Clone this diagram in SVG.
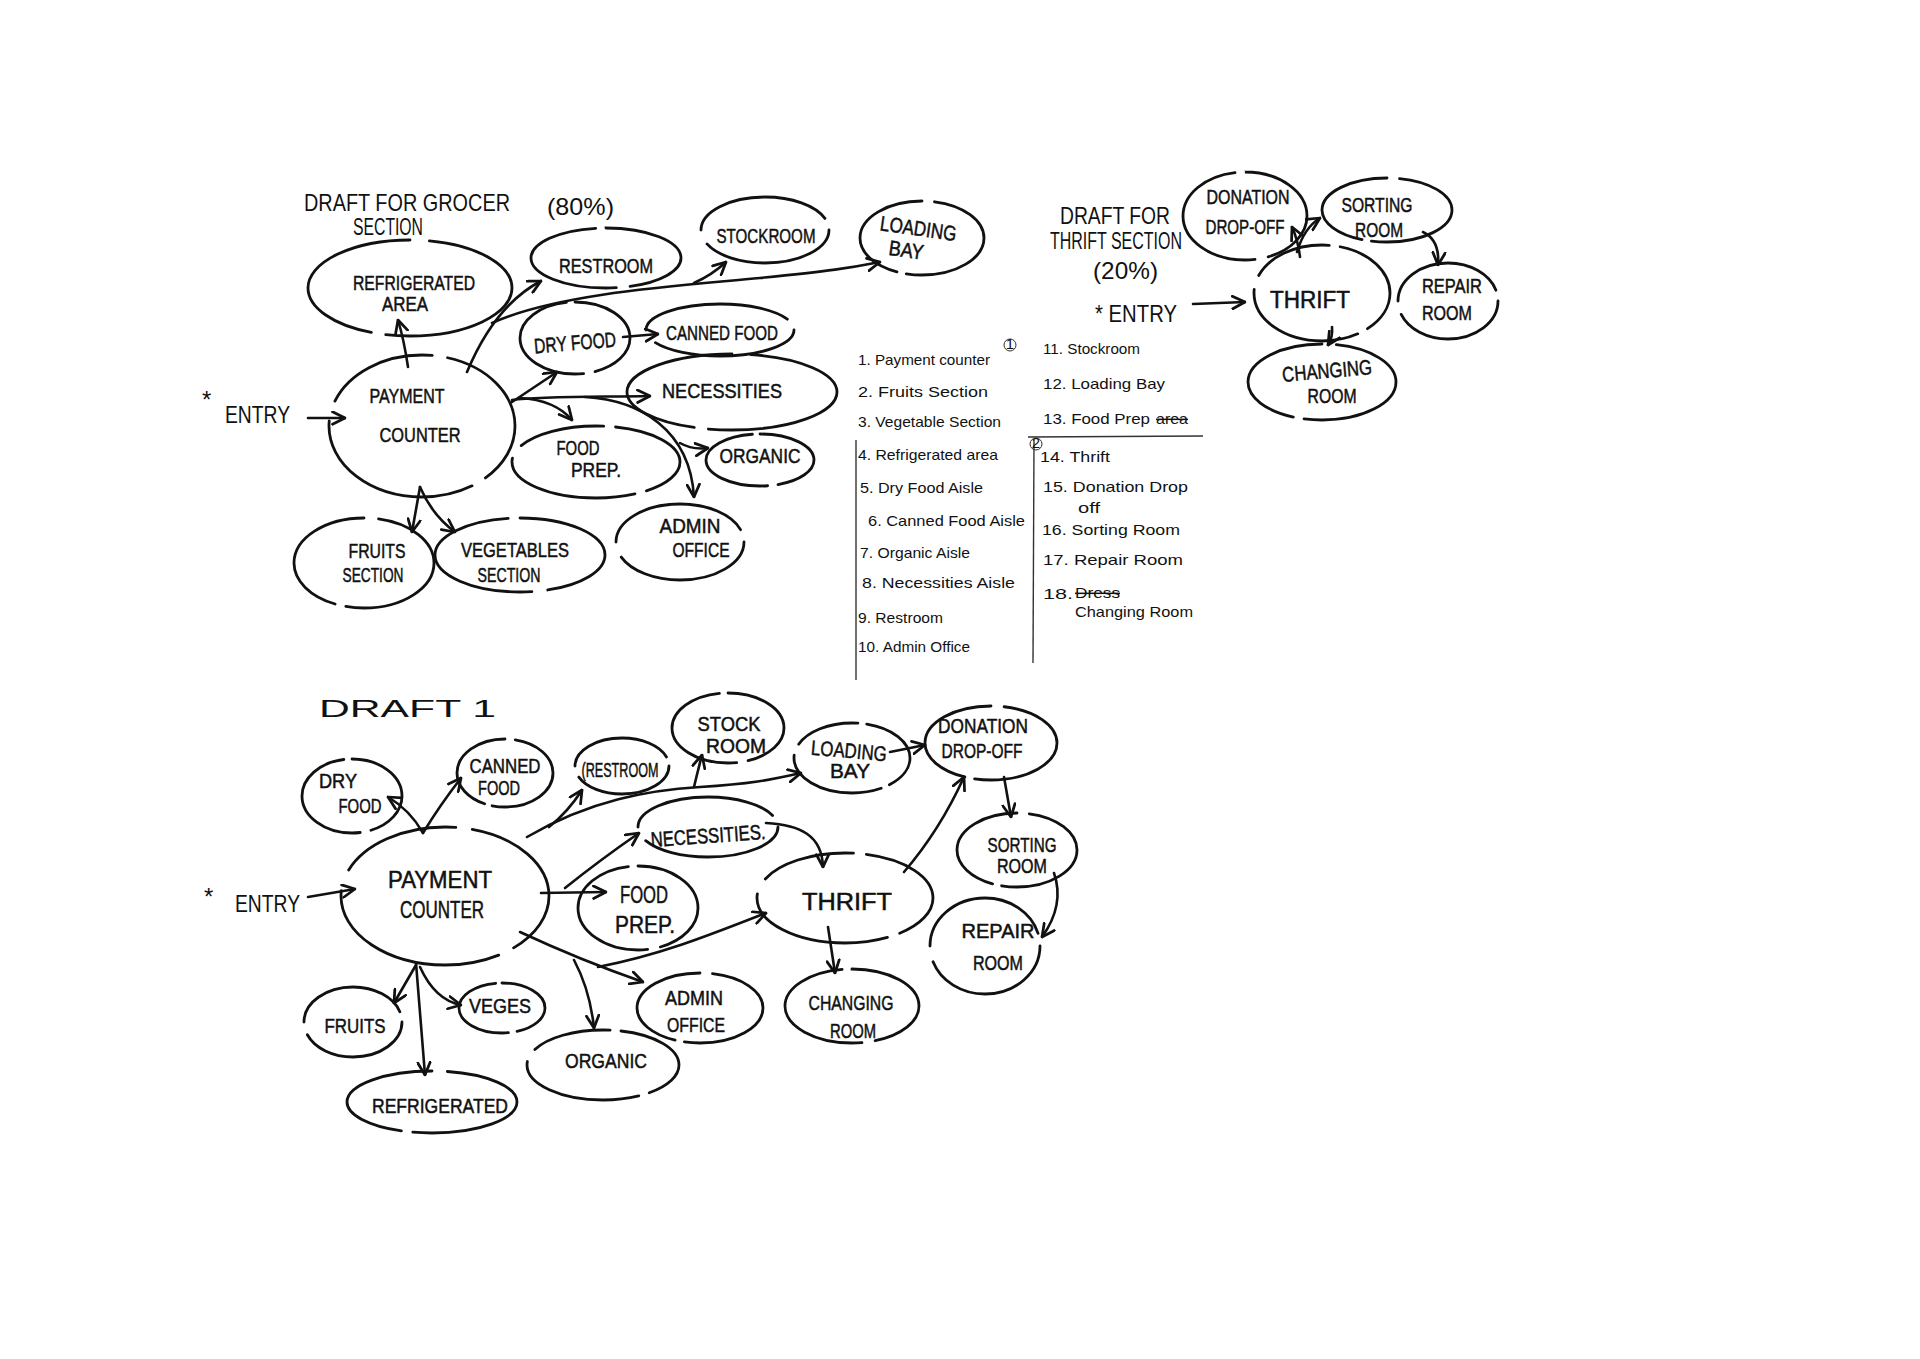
<svg xmlns="http://www.w3.org/2000/svg" width="1920" height="1359" viewBox="0 0 1920 1359">
<defs>
<marker id="ah" viewBox="0 0 12 12" refX="11" refY="6" markerWidth="15" markerHeight="15" markerUnits="userSpaceOnUse" orient="auto">
<path d="M1,1 L11,6 L1,11" fill="none" stroke="#111" stroke-width="2.2" stroke-linecap="round" stroke-linejoin="round"/>
</marker>
<style>
.bg{fill:#fff}
.n{fill:none;stroke:#111;stroke-width:2.8;stroke-linecap:round}
.ga{stroke-dasharray:30 3 42 4 21 0}
.gb{stroke-dasharray:18 4 50 3 25 0}
.gc{stroke-dasharray:45 5 46 4}
.gd{stroke-dasharray:12 3 36 4 22 3 20 0}
.c{fill:none;stroke:#111;stroke-width:2.6;stroke-linecap:round;marker-end:url(#ah)}
.t{font-family:"Liberation Sans",Arial,sans-serif;font-size:21px;fill:#111;stroke:#111;stroke-width:0.5;text-anchor:middle}
.tb{font-family:"Liberation Sans",Arial,sans-serif;font-size:23px;fill:#111;stroke:#111;stroke-width:0.5;text-anchor:middle}
.h{font-family:"Liberation Sans",Arial,sans-serif;font-size:24px;fill:#111}
.lg{font-family:"Liberation Sans",Arial,sans-serif;font-size:15px;fill:#111}
.rule{stroke:#333;stroke-width:1.4;fill:none}
</style>
</defs>
<rect class="bg" x="0" y="0" width="1920" height="1359"/>

<!-- ===== Grocer draft ===== -->
<g id="grocer-title">
<text class="h" x="304" y="211" font-size="20" textLength="206" lengthAdjust="spacingAndGlyphs">DRAFT FOR GROCER</text>
<text class="h" x="547" y="215" font-size="22" textLength="67" lengthAdjust="spacingAndGlyphs">(80%)</text>
<text class="h" x="353" y="235" font-size="13" textLength="70" lengthAdjust="spacingAndGlyphs">SECTION</text>
</g>
<g id="g-entry">
<text class="h" x="202" y="408" font-size="20">*</text>
<text class="h" x="225" y="423" textLength="65" lengthAdjust="spacingAndGlyphs">ENTRY</text>
</g>
<g id="g-payment">
<ellipse class="n gd" pathLength="100" cx="422" cy="426" rx="93" ry="71"/>
<text class="t" x="407" y="403" textLength="75" lengthAdjust="spacingAndGlyphs">PAYMENT</text>
<text class="t" x="420" y="442" font-size="26" textLength="81" lengthAdjust="spacingAndGlyphs">COUNTER</text>
</g>
<g id="g-refrigerated">
<ellipse class="n ga" pathLength="100" cx="410" cy="288" rx="102" ry="48"/>
<text class="t" x="414" y="290" textLength="122" lengthAdjust="spacingAndGlyphs">REFRIGERATED</text>
<text class="t" x="405" y="311" textLength="46" lengthAdjust="spacingAndGlyphs">AREA</text>
</g>
<g id="g-restroom">
<ellipse class="n gb" pathLength="100" cx="606" cy="258" rx="75" ry="30"/>
<text class="t" x="606" y="273" textLength="94" lengthAdjust="spacingAndGlyphs">RESTROOM</text>
</g>
<g id="g-stockroom">
<ellipse class="n gc" pathLength="100" cx="765" cy="230" rx="64" ry="33"/>
<text class="t" x="766" y="243" textLength="99" lengthAdjust="spacingAndGlyphs">STOCKROOM</text>
</g>
<g id="g-loading">
<ellipse class="n ga" pathLength="100" cx="922" cy="238" rx="62" ry="37"/>
<g transform="rotate(8 912 245)">
<text class="t" x="916" y="235" font-size="18" textLength="77" lengthAdjust="spacingAndGlyphs">LOADING</text>
<text class="t" x="907" y="258" font-size="18" textLength="35" lengthAdjust="spacingAndGlyphs">BAY</text>
</g>
</g>
<g id="g-dryfood">
<ellipse class="n gb" pathLength="100" cx="575" cy="338" rx="55" ry="36"/>
<text class="t" x="575" y="350" transform="rotate(-5 575 342)" textLength="82" lengthAdjust="spacingAndGlyphs">DRY FOOD</text>
</g>
<g id="g-canned">
<ellipse class="n gc" pathLength="100" cx="720" cy="330" rx="74" ry="26"/>
<text class="t" x="722" y="340" textLength="112" lengthAdjust="spacingAndGlyphs">CANNED FOOD</text>
</g>
<g id="g-necessities">
<ellipse class="n ga" pathLength="100" cx="732" cy="392" rx="105" ry="38"/>
<text class="t" x="722" y="398" textLength="120" lengthAdjust="spacingAndGlyphs">NECESSITIES</text>
</g>
<g id="g-foodprep">
<ellipse class="n gd" pathLength="100" cx="596" cy="462" rx="84" ry="36"/>
<text class="t" x="578" y="455" textLength="43" lengthAdjust="spacingAndGlyphs">FOOD</text>
<text class="t" x="596" y="477" textLength="50" lengthAdjust="spacingAndGlyphs">PREP.</text>
</g>
<g id="g-organic">
<ellipse class="n gb" pathLength="100" cx="760" cy="460" rx="54" ry="26"/>
<text class="t" x="760" y="463" textLength="81" lengthAdjust="spacingAndGlyphs">ORGANIC</text>
</g>
<g id="g-admin">
<ellipse class="n gc" pathLength="100" cx="680" cy="542" rx="64" ry="38"/>
<text class="t" x="690" y="533" textLength="61" lengthAdjust="spacingAndGlyphs">ADMIN</text>
<text class="t" x="701" y="557" textLength="57" lengthAdjust="spacingAndGlyphs">OFFICE</text>
</g>
<g id="g-fruits">
<ellipse class="n ga" pathLength="100" cx="364" cy="563" rx="70" ry="45"/>
<text class="t" x="377" y="558" font-size="18" textLength="57" lengthAdjust="spacingAndGlyphs">FRUITS</text>
<text class="t" x="373" y="582" font-size="18" textLength="61" lengthAdjust="spacingAndGlyphs">SECTION</text>
</g>
<g id="g-vegetables">
<ellipse class="n gb" pathLength="100" cx="520" cy="555" rx="85" ry="37"/>
<text class="t" x="515" y="557" font-size="18" textLength="108" lengthAdjust="spacingAndGlyphs">VEGETABLES</text>
<text class="t" x="509" y="582" font-size="18" textLength="63" lengthAdjust="spacingAndGlyphs">SECTION</text>
</g>

<!-- ===== Legend ===== -->
<g id="legend">
<path class="rule" d="M856,440 L856,680"/>
<path class="rule" d="M1034,440 L1033,663"/>
<path class="rule" d="M1028,437 L1203,436"/>
<circle cx="1010" cy="345" r="6" fill="none" stroke="#333" stroke-width="1"/>
<text class="lg" x="1010" y="349" font-size="9" text-anchor="middle">1</text>
<circle cx="1036" cy="444" r="6" fill="none" stroke="#333" stroke-width="1"/>
<text class="lg" x="1036" y="448" font-size="9" text-anchor="middle">2</text>
<text class="lg" x="858" y="365" textLength="132" lengthAdjust="spacingAndGlyphs">1. Payment counter</text>
<text class="lg" x="858" y="397" textLength="130" lengthAdjust="spacingAndGlyphs">2. Fruits Section</text>
<text class="lg" x="858" y="427" textLength="143" lengthAdjust="spacingAndGlyphs">3. Vegetable Section</text>
<text class="lg" x="858" y="460" textLength="140" lengthAdjust="spacingAndGlyphs">4. Refrigerated area</text>
<text class="lg" x="860" y="493" textLength="123" lengthAdjust="spacingAndGlyphs">5. Dry Food Aisle</text>
<text class="lg" x="868" y="526" textLength="157" lengthAdjust="spacingAndGlyphs">6. Canned Food Aisle</text>
<text class="lg" x="860" y="558" textLength="110" lengthAdjust="spacingAndGlyphs">7. Organic Aisle</text>
<text class="lg" x="862" y="588" textLength="153" lengthAdjust="spacingAndGlyphs">8. Necessities Aisle</text>
<text class="lg" x="858" y="623" textLength="85" lengthAdjust="spacingAndGlyphs">9. Restroom</text>
<text class="lg" x="858" y="652" textLength="112" lengthAdjust="spacingAndGlyphs">10. Admin Office</text>
<text class="lg" x="1043" y="354" textLength="97" lengthAdjust="spacingAndGlyphs">11. Stockroom</text>
<text class="lg" x="1043" y="389" textLength="122" lengthAdjust="spacingAndGlyphs">12. Loading Bay</text>
<text class="lg" x="1043" y="424" textLength="107" lengthAdjust="spacingAndGlyphs">13. Food Prep</text>
<text class="lg" x="1156" y="424" textLength="32" lengthAdjust="spacingAndGlyphs" text-decoration="line-through">area</text>
<text class="lg" x="1040" y="462" textLength="70" lengthAdjust="spacingAndGlyphs">14. Thrift</text>
<text class="lg" x="1043" y="492" textLength="145" lengthAdjust="spacingAndGlyphs">15. Donation Drop</text>
<text class="lg" x="1078" y="513" textLength="22" lengthAdjust="spacingAndGlyphs">off</text>
<text class="lg" x="1042" y="535" textLength="138" lengthAdjust="spacingAndGlyphs">16. Sorting Room</text>
<text class="lg" x="1043" y="565" textLength="140" lengthAdjust="spacingAndGlyphs">17. Repair Room</text>
<text class="lg" x="1043" y="599" textLength="30" lengthAdjust="spacingAndGlyphs">18.</text>
<text class="lg" x="1075" y="598" textLength="45" lengthAdjust="spacingAndGlyphs" text-decoration="line-through">Dress</text>
<text class="lg" x="1075" y="617" textLength="118" lengthAdjust="spacingAndGlyphs">Changing Room</text>
</g>

<!-- ===== Thrift draft ===== -->
<g id="thrift-title">
<text class="h" x="1060" y="224" font-size="19" textLength="110" lengthAdjust="spacingAndGlyphs">DRAFT FOR</text>
<text class="h" x="1050" y="249" font-size="15" textLength="132" lengthAdjust="spacingAndGlyphs">THRIFT SECTION</text>
<text class="h" x="1093" y="279" font-size="20" textLength="65" lengthAdjust="spacingAndGlyphs">(20%)</text>
</g>
<g id="t-entry">
<text class="h" x="1095" y="322" font-size="26" textLength="82" lengthAdjust="spacingAndGlyphs">* ENTRY</text>
</g>
<g id="t-donation">
<ellipse class="n gb" pathLength="100" cx="1245" cy="216" rx="62" ry="44"/>
<text class="t" x="1248" y="204" font-size="17" textLength="83" lengthAdjust="spacingAndGlyphs">DONATION</text>
<text class="t" x="1245" y="234" font-size="17" textLength="79" lengthAdjust="spacingAndGlyphs">DROP-OFF</text>
</g>
<g id="t-sorting">
<ellipse class="n ga" pathLength="100" cx="1387" cy="210" rx="65" ry="32"/>
<text class="t" x="1377" y="212" font-size="18" textLength="71" lengthAdjust="spacingAndGlyphs">SORTING</text>
<text class="t" x="1379" y="237" font-size="18" textLength="48" lengthAdjust="spacingAndGlyphs">ROOM</text>
</g>
<g id="t-thrift">
<ellipse class="n gd" pathLength="100" cx="1322" cy="293" rx="68" ry="48"/>
<text class="tb" x="1310" y="308" font-size="26" textLength="80" lengthAdjust="spacingAndGlyphs">THRIFT</text>
</g>
<g id="t-repair">
<ellipse class="n gc" pathLength="100" cx="1448" cy="301" rx="50" ry="38"/>
<text class="t" x="1452" y="293" font-size="18" textLength="60" lengthAdjust="spacingAndGlyphs">REPAIR</text>
<text class="t" x="1447" y="320" font-size="18" textLength="50" lengthAdjust="spacingAndGlyphs">ROOM</text>
</g>
<g id="t-changing">
<ellipse class="n ga" pathLength="100" cx="1322" cy="382" rx="74" ry="38"/>
<text class="t" x="1327" y="378" transform="rotate(-5 1327 370)" font-size="20" textLength="90" lengthAdjust="spacingAndGlyphs">CHANGING</text>
<text class="t" x="1332" y="403" font-size="20" textLength="49" lengthAdjust="spacingAndGlyphs">ROOM</text>
</g>

<!-- ===== Draft 1 ===== -->
<g id="draft1-title">
<text class="h" x="319" y="717" font-size="44" textLength="177" lengthAdjust="spacingAndGlyphs">DRAFT 1</text>
</g>
<g id="d-entry">
<text class="h" x="204" y="905" font-size="20">*</text>
<text class="h" x="235" y="912" textLength="65" lengthAdjust="spacingAndGlyphs">ENTRY</text>
</g>
<g id="d-payment">
<ellipse class="n gd" pathLength="100" cx="445" cy="896" rx="104" ry="69"/>
<text class="tb" x="440" y="888" font-size="25" textLength="104" lengthAdjust="spacingAndGlyphs">PAYMENT</text>
<text class="tb" x="442" y="918" font-size="25" textLength="84" lengthAdjust="spacingAndGlyphs">COUNTER</text>
</g>
<g id="d-dryfood">
<ellipse class="n gb" pathLength="100" cx="352" cy="796" rx="50" ry="37"/>
<text class="t" x="338" y="788" textLength="38" lengthAdjust="spacingAndGlyphs">DRY</text>
<text class="t" x="360" y="813" textLength="43" lengthAdjust="spacingAndGlyphs">FOOD</text>
</g>
<g id="d-canned">
<ellipse class="n ga" pathLength="100" cx="505" cy="773" rx="48" ry="34"/>
<text class="t" x="505" y="773" textLength="71" lengthAdjust="spacingAndGlyphs">CANNED</text>
<text class="t" x="499" y="795" textLength="42" lengthAdjust="spacingAndGlyphs">FOOD</text>
</g>
<g id="d-restroom">
<ellipse class="n gc" pathLength="100" cx="622" cy="766" rx="47" ry="28"/>
<text class="t" x="620" y="777" font-size="19" textLength="77" lengthAdjust="spacingAndGlyphs">(RESTROOM</text>
</g>
<g id="d-stockroom">
<ellipse class="n gb" pathLength="100" cx="728" cy="728" rx="56" ry="35"/>
<text class="t" x="729" y="731" font-size="18" textLength="63" lengthAdjust="spacingAndGlyphs">STOCK</text>
<text class="t" x="736" y="753" font-size="18" textLength="60" lengthAdjust="spacingAndGlyphs">ROOM</text>
</g>
<g id="d-loading">
<ellipse class="n gd" pathLength="100" cx="852" cy="758" rx="58" ry="35"/>
<text class="t" x="849" y="758" transform="rotate(5 849 750)" textLength="76" lengthAdjust="spacingAndGlyphs">LOADING</text>
<text class="t" x="850" y="778" textLength="40" lengthAdjust="spacingAndGlyphs">BAY</text>
</g>
<g id="d-donation">
<ellipse class="n ga" pathLength="100" cx="991" cy="743" rx="66" ry="37"/>
<text class="t" x="983" y="733" textLength="90" lengthAdjust="spacingAndGlyphs">DONATION</text>
<text class="t" x="982" y="758" textLength="81" lengthAdjust="spacingAndGlyphs">DROP-OFF</text>
</g>
<g id="d-necessities">
<ellipse class="n gc" pathLength="100" cx="708" cy="827" rx="70" ry="30"/>
<text class="t" x="708" y="843" transform="rotate(-4 708 835)" textLength="115" lengthAdjust="spacingAndGlyphs">NECESSITIES.</text>
</g>
<g id="d-foodprep">
<ellipse class="n gb" pathLength="100" cx="638" cy="908" rx="60" ry="42"/>
<text class="tb" x="644" y="903" textLength="48" lengthAdjust="spacingAndGlyphs">FOOD</text>
<text class="tb" x="645" y="933" textLength="60" lengthAdjust="spacingAndGlyphs">PREP.</text>
</g>
<g id="d-thrift">
<ellipse class="n gd" pathLength="100" cx="845" cy="898" rx="88" ry="45"/>
<text class="tb" x="847" y="910" font-size="28" textLength="90" lengthAdjust="spacingAndGlyphs">THRIFT</text>
</g>
<g id="d-sorting">
<ellipse class="n ga" pathLength="100" cx="1017" cy="850" rx="60" ry="37"/>
<text class="t" x="1022" y="852" font-size="17" textLength="69" lengthAdjust="spacingAndGlyphs">SORTING</text>
<text class="t" x="1022" y="873" font-size="17" textLength="50" lengthAdjust="spacingAndGlyphs">ROOM</text>
</g>
<g id="d-repair">
<ellipse class="n gc" pathLength="100" cx="985" cy="946" rx="55" ry="48"/>
<text class="t" x="998" y="938" textLength="73" lengthAdjust="spacingAndGlyphs">REPAIR</text>
<text class="t" x="998" y="970" textLength="50" lengthAdjust="spacingAndGlyphs">ROOM</text>
</g>
<g id="d-changing">
<ellipse class="n gb" pathLength="100" cx="852" cy="1006" rx="67" ry="37"/>
<text class="t" x="851" y="1010" font-size="19" textLength="85" lengthAdjust="spacingAndGlyphs">CHANGING</text>
<text class="t" x="853" y="1038" font-size="19" textLength="46" lengthAdjust="spacingAndGlyphs">ROOM</text>
</g>
<g id="d-admin">
<ellipse class="n ga" pathLength="100" cx="700" cy="1008" rx="63" ry="35"/>
<text class="t" x="694" y="1005" textLength="58" lengthAdjust="spacingAndGlyphs">ADMIN</text>
<text class="t" x="696" y="1032" textLength="58" lengthAdjust="spacingAndGlyphs">OFFICE</text>
</g>
<g id="d-organic">
<ellipse class="n gd" pathLength="100" cx="603" cy="1065" rx="76" ry="35"/>
<text class="t" x="606" y="1068" textLength="82" lengthAdjust="spacingAndGlyphs">ORGANIC</text>
</g>
<g id="d-fruits">
<ellipse class="n gc" pathLength="100" cx="353" cy="1022" rx="49" ry="35"/>
<text class="t" x="355" y="1033" textLength="61" lengthAdjust="spacingAndGlyphs">FRUITS</text>
</g>
<g id="d-veges">
<ellipse class="n gb" pathLength="100" cx="502" cy="1008" rx="43" ry="25"/>
<text class="t" x="500" y="1013" textLength="62" lengthAdjust="spacingAndGlyphs">VEGES</text>
</g>
<g id="d-refrigerated">
<ellipse class="n ga" pathLength="100" cx="432" cy="1102" rx="85" ry="31"/>
<text class="t" x="440" y="1113" textLength="136" lengthAdjust="spacingAndGlyphs">REFRIGERATED</text>
</g>

<!-- ===== Connectors ===== -->
<g id="connectors">
<path class="c" d="M308,418 L345,418"/>
<path class="c" d="M408,367 Q404,340 398,320"/>
<path class="c" d="M467,372 Q495,305 541,281"/>
<path class="c" d="M492,323 C560,292 690,285 760,278 S850,268 880,262"/>
<path class="c" d="M694,283 Q712,275 726,262"/>
<path class="c" d="M512,402 L557,372"/>
<path class="c" d="M512,400 C540,396 600,397 650,396"/>
<path class="c" d="M520,398 Q555,400 572,420"/>
<path class="c" d="M585,397 C640,400 690,430 694,497"/>
<path class="c" d="M680,443 Q692,450 708,448"/>
<path class="c" d="M420,487 L412,532"/>
<path class="c" d="M420,487 Q432,515 455,532"/>
<path class="c" d="M623,337 L658,334"/>

<path class="c" d="M1193,304 L1245,302"/>
<path class="c" d="M1300,257 Q1298,240 1292,227"/>
<path class="c" d="M1297,252 Q1304,228 1320,218"/>
<path class="c" d="M1423,232 Q1440,240 1438,265"/>
<path class="c" d="M1332,327 Q1333,337 1328,345"/>

<path class="c" d="M308,897 L355,889"/>
<path class="c" d="M423,833 Q410,810 388,797"/>
<path class="c" d="M423,833 Q440,805 461,778"/>
<path class="c" d="M549,827 Q568,812 582,790"/>
<path class="c" d="M527,837 C590,800 650,790 700,787 S770,780 801,773"/>
<path class="c" d="M694,787 Q698,770 702,755"/>
<path class="c" d="M890,752 L925,745"/>
<path class="c" d="M565,888 Q600,860 639,833"/>
<path class="c" d="M541,893 L606,892"/>
<path class="c" d="M766,823 C800,825 822,835 823,867"/>
<path class="c" d="M598,967 C660,955 710,935 766,913"/>
<path class="c" d="M520,932 Q580,960 643,982"/>
<path class="c" d="M574,960 Q590,990 594,1028"/>
<path class="c" d="M416,965 L394,1003"/>
<path class="c" d="M416,963 L425,1075"/>
<path class="c" d="M420,967 Q435,1000 461,1005"/>
<path class="c" d="M904,872 Q940,830 964,777"/>
<path class="c" d="M828,927 L835,973"/>
<path class="c" d="M1004,777 L1011,817"/>
<path class="c" d="M1054,873 Q1065,905 1042,937"/>
</g>
</svg>
